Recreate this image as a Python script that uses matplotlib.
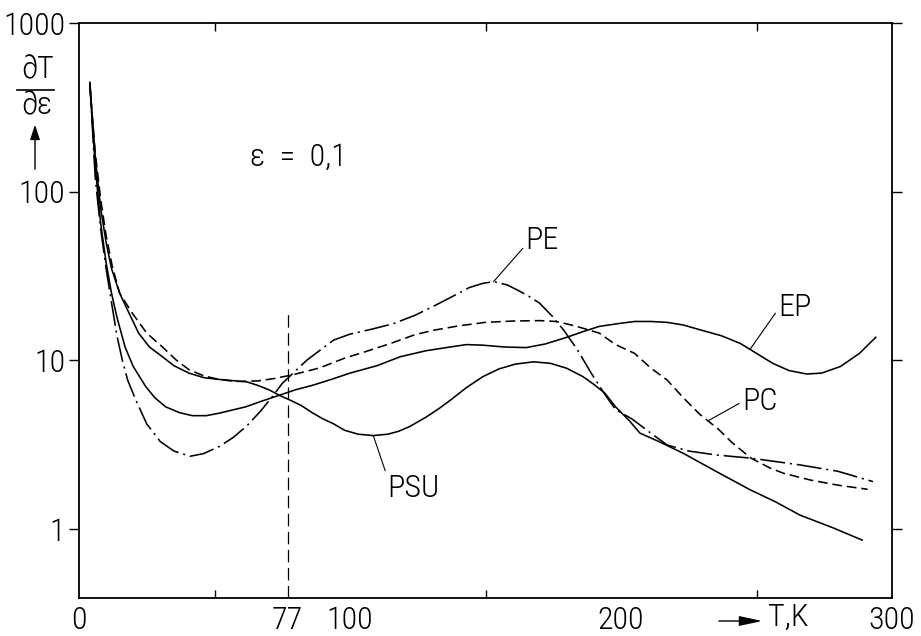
import numpy as np
import matplotlib
matplotlib.use("Agg")
import matplotlib.pyplot as plt
from matplotlib import font_manager

plt.rcParams['lines.scale_dashes'] = False
_avail = {f.name for f in font_manager.fontManager.ttflist}
_cands = ['Liberation Sans Narrow', 'DejaVu Sans Condensed', 'Roboto Condensed',
          'Open Sans Condensed', 'Liberation Sans']
_main = next((c for c in _cands if c in _avail), 'DejaVu Sans')
FAM = [_main, 'DejaVu Sans']
plt.rcParams['font.family'] = FAM
plt.rcParams['font.weight'] = 'light'
NARROW = _main in ('Liberation Sans Narrow', 'DejaVu Sans Condensed', 'Roboto Condensed',
                   'Open Sans Condensed')
fs = 23 if NARROW else 19.5

# ---------------- data ----------------
pe_T = [4, 6, 8, 10, 12, 14, 16, 18, 21, 25, 30, 35, 41, 46, 52, 57, 62, 67, 71, 75, 79,
        84, 89, 94, 100, 108, 116, 124, 131, 138, 144, 149, 153, 158, 162, 166, 170, 175,
        179, 184, 189, 194, 198, 204, 211, 217, 225, 235, 248, 266, 280, 293]
pe_v = [450, 120, 60, 35, 22, 14, 10, 7.6, 5.8, 4.2, 3.3, 2.9, 2.7, 2.8, 3.1, 3.5, 4.1, 5.0,
        6.0, 7.3, 8.4, 10.0, 11.5, 13.2, 14.3, 15.3, 16.5, 18.5, 21, 24, 27, 28.6, 29.3, 28,
        26, 24, 21.8, 18, 15, 11.5, 8.4, 6.3, 5.1, 4.5, 3.7, 3.15, 2.9, 2.75, 2.63, 2.4,
        2.2, 1.91]

pc_T = [4, 6, 8, 10, 12.3, 15, 19.7, 25, 30.8, 36, 40.6, 46, 51.7, 58, 66, 72, 78.7, 88.6,
        98, 106, 115, 124, 131, 140, 150, 160, 170, 176, 181, 186, 192, 198, 205, 211, 217,
        223, 229, 236, 241, 248, 255, 260, 270, 280, 291]
pc_v = [430, 170, 90, 55, 36, 25, 19, 14.5, 12, 10, 8.8, 8.1, 7.7, 7.5, 7.55, 7.8, 8.2, 9.0,
        10.3, 11.3, 12.6, 14.2, 15.1, 16, 16.8, 17.1, 17.2, 17.0, 16.3, 15.5, 14.5, 12.4,
        11, 9, 7.65, 6.0, 4.8, 3.9, 3.25, 2.63, 2.3, 2.14, 1.95, 1.82, 1.72]

psu_T = [4, 6, 8, 10, 12, 15, 18.5, 22, 26, 30.8, 35, 40.6, 46, 52, 58, 62, 66, 70, 74, 78,
         82, 86, 90, 94, 98, 103, 108.6, 114, 118, 122, 128, 133, 137, 143, 149, 155, 161,
         167.7, 174, 180, 186, 190, 194, 198, 203, 207, 214, 223, 235, 247.6, 257, 266,
         278, 289]
psu_v = [440, 160, 80, 50, 35, 25, 19, 14.5, 12, 10.5, 9.3, 8.4, 7.9, 7.7, 7.55, 7.45, 7.1,
         6.7, 6.2, 5.8, 5.4, 4.9, 4.5, 4.2, 3.85, 3.65, 3.58, 3.65, 3.8, 4.05, 4.6, 5.2, 5.8,
         6.9, 8.0, 8.9, 9.5, 9.8, 9.6, 8.97, 8.0, 7.2, 6.4, 5.3, 4.4, 3.7, 3.3, 2.81, 2.2,
         1.71, 1.45, 1.21, 1.02, 0.86]

ep_T = [4, 6, 8, 10, 12, 14, 17, 20, 24.6, 28, 32, 37, 41.8, 47, 51.7, 56, 61.5, 67, 73.8,
        80, 86, 93, 100, 110, 118.5, 128, 137, 143, 149, 157, 165, 172, 180, 186, 192, 200,
        205, 211, 217, 223, 229, 237, 244, 250, 256, 262, 268.5, 274, 281, 288, 294]
ep_v = [430, 140, 65, 38, 25, 18, 12, 9.2, 7.0, 6.0, 5.3, 4.9, 4.7, 4.7, 4.86, 5.05, 5.3,
        5.7, 6.2, 6.7, 7.1, 7.7, 8.4, 9.3, 10.5, 11.4, 12.0, 12.4, 12.3, 12.0, 11.9, 12.5,
        13.7, 14.8, 15.9, 16.6, 17.0, 17.0, 16.8, 16.2, 15.2, 14.0, 12.6, 11.0, 9.6, 8.7,
        8.3, 8.4, 9.2, 11.0, 13.7]

ref_T = 77
ref_top = 19
x_ticks = [0, 77, 100, 200, 300]
x_marks = [0, 50, 100, 150, 200, 250, 300]
y_ticks = [1, 10, 100, 1000]

# ---------------- figure ----------------
W, H = 921, 636
fig = plt.figure(figsize=(W / 100, H / 100), dpi=100)
ax = fig.add_axes([79 / W, 1 - 598 / H, (892 - 79) / W, (598 - 23) / H])
ax.set_yscale('log')
ax.set_xlim(0, 300)
ax.set_ylim(0.39, 1000)

lw = 1.15
ax.plot(pe_T, pe_v, color='black', lw=lw, linestyle=(0, (18, 3.5, 1.5, 3.5)))
ax.plot(pc_T, pc_v, color='black', lw=lw, linestyle=(0, (7, 3.5)))
ax.plot(psu_T, psu_v, color='black', lw=lw)
ax.plot(ep_T, ep_v, color='black', lw=lw)
ax.plot([ref_T, ref_T], [0.39, ref_top], color='black', lw=0.9, linestyle=(0, (9, 4)))

for s in ax.spines.values():
    s.set_linewidth(1.3)

ax.set_xticks(x_ticks)
ax.set_xticklabels([str(t) for t in x_ticks])
ax.set_xticks(x_marks, minor=True)
ax.set_yticks(y_ticks)
ax.set_yticklabels([str(t) for t in y_ticks])
ax.yaxis.set_minor_locator(matplotlib.ticker.NullLocator())
ax.tick_params(axis='x', which='minor', direction='in', length=6, width=1.0, top=True)
ax.tick_params(axis='x', which='major', length=0, labelsize=fs, pad=6, top=True)
ax.tick_params(axis='y', which='both', direction='out', length=7, width=1.0,
               right=True, labelsize=fs, pad=3)
for lab in ax.get_xticklabels() + ax.get_yticklabels():
    lab.set_family(FAM)
    lab.set_fontweight('light')


def logat(T, v, t):
    return 10 ** np.interp(t, T, np.log10(v))


lead = dict(arrowstyle='-', lw=0.8, color='black', shrinkA=0, shrinkB=0)
ipk = int(np.argmax(pe_v[10:])) + 10
ax.annotate('PE', xy=(pe_T[ipk], pe_v[ipk]),
            xytext=(164.8, 51.7), ha='left', va='center', fontsize=fs, family=FAM,
            arrowprops=dict(lead, relpos=(0.02, 0.35)))
ax.annotate('EP', xy=(247.6, logat(ep_T, ep_v, 247.6)),
            xytext=(258, 20.5), ha='left', va='center', fontsize=fs, family=FAM,
            arrowprops=dict(lead, relpos=(0.0, 0.45)))
ax.annotate('PC', xy=(232.1, logat(pc_T, pc_v, 232.1)),
            xytext=(244.6, 5.67), ha='left', va='center', fontsize=fs, family=FAM,
            arrowprops=dict(lead, relpos=(0.0, 0.5)))
ax.annotate('PSU', xy=(108.6, logat(psu_T, psu_v, 108.6)),
            xytext=(113.7, 1.75), ha='left', va='center', fontsize=fs, family=FAM,
            arrowprops=dict(lead, relpos=(0.0, 0.9)))

ax.text(63.1, 160, 'ε  =  0,1', ha='left', va='center', fontsize=fs, family=FAM)

# y-axis quantity: fraction dT/d(eps) with upward arrow
fig.text(38 / W, 1 - 70 / H, '∂T', ha='center', va='center', fontsize=fs, family=FAM)
fig.text(37 / W, 1 - 106 / H, '∂ε', ha='center', va='center', fontsize=fs, family=FAM)
fig.add_artist(plt.Line2D([17 / W, 54 / W], [1 - 90 / H, 1 - 90 / H], color='black', lw=1.2))
fig.add_artist(matplotlib.patches.FancyArrowPatch((35 / W, 1 - 172 / H), (35 / W, 1 - 122 / H),
               transform=fig.transFigure, arrowstyle='-|>,head_length=9,head_width=3',
               color='black', lw=1.0, mutation_scale=1))

# x-axis quantity: arrow + T,K
fig.add_artist(matplotlib.patches.FancyArrowPatch((716 / W, 1 - 621 / H), (765 / W, 1 - 621 / H),
               transform=fig.transFigure, arrowstyle='-|>,head_length=14,head_width=3',
               color='black', lw=1.0, mutation_scale=1))
fig.text(768 / W, 1 - 617 / H, 'T,K', ha='left', va='center', fontsize=fs, family=FAM)

fig.savefig('out.png', dpi=100)
